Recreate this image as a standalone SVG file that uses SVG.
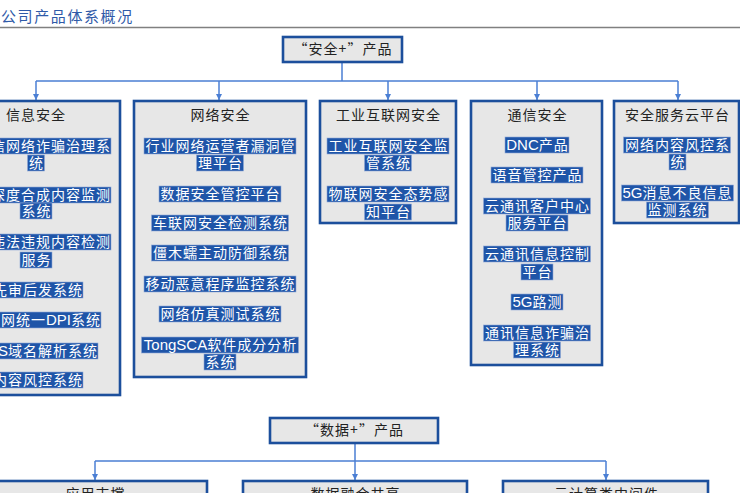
<svg xmlns="http://www.w3.org/2000/svg" width="740" height="493" viewBox="0 0 740 493">
<style>
.box{fill:#e7e7e7;stroke:#1c4f9c;stroke-width:2.6}
.hd{font-family:"Noto Sans CJK SC",sans-serif;font-size:14px;letter-spacing:1px;fill:#222;text-anchor:middle}
.it{font-family:"Noto Sans CJK SC",sans-serif;font-size:14px;letter-spacing:1px;fill:#fff;text-anchor:middle}
.itE{font-family:"Noto Sans CJK SC",sans-serif;font-size:14px;letter-spacing:1px;fill:#fff;text-anchor:end}
.lat{font-family:"Liberation Sans",Arial,sans-serif;font-size:15px;letter-spacing:0}
.hl{fill:#1f55a8;stroke:#8fa9d6;stroke-width:0.6}
.cn{fill:none;stroke:#4b7fd4;stroke-width:1.5}
</style>
<defs>
<marker id="ar" markerWidth="6" markerHeight="6" refX="6" refY="3" orient="auto" markerUnits="userSpaceOnUse">
<path d="M0,0 L6,3 L0,6 z" fill="#4b7fd4"/>
</marker>
</defs>
<rect width="740" height="493" fill="#fff"/>
<g id="title">
<text x="1" y="22" font-family="Noto Sans CJK SC,sans-serif" font-size="15" letter-spacing="1.6" fill="#2f5aa8">公司产品体系概况</text>
<line x1="0" y1="27.5" x2="740" y2="27.5" stroke="#808080" stroke-width="1.6"/>
</g>
<g id="connectors">
<path class="cn" d="M342,62 V81 M36,81 H678"/>
<path class="cn" d="M36,81 V100" marker-end="url(#ar)"/>
<path class="cn" d="M219,81 V100" marker-end="url(#ar)"/>
<path class="cn" d="M388,81 V100" marker-end="url(#ar)"/>
<path class="cn" d="M537,81 V100" marker-end="url(#ar)"/>
<path class="cn" d="M678,81 V100" marker-end="url(#ar)"/>
<path class="cn" d="M355,443 V461 M95,461 H606"/>
<path class="cn" d="M95,461 V480" marker-end="url(#ar)"/>
<path class="cn" d="M355,461 V480" marker-end="url(#ar)"/>
<path class="cn" d="M606,461 V480" marker-end="url(#ar)"/>
</g>
<g id="root-security">
<rect class="box" x="283" y="37" width="119" height="25"/>
<text class="hd" x="343" y="54">“安全+”产品</text>
</g>
<g id="info-security">
<rect class="box" x="-52" y="101" width="172" height="294"/>
<text class="hd" x="36" y="120">信息安全</text>
<rect class="hl" x="-20" y="138" width="131" height="16"/><text class="itE" x="111" y="151">电信网络诈骗治理系</text>
<rect class="hl" x="27.5" y="155" width="17" height="16"/><text class="it" x="36.5" y="168">统</text>
<rect class="hl" x="-20" y="187" width="131" height="16"/><text class="itE" x="111" y="200">深度合成内容监测</text>
<rect class="hl" x="20" y="203" width="32" height="16"/><text class="it" x="36.5" y="216">系统</text>
<rect class="hl" x="-20" y="234" width="131" height="16"/><text class="itE" x="111" y="247">违法违规内容检测</text>
<rect class="hl" x="20" y="252" width="32" height="16"/><text class="it" x="36.5" y="265">服务</text>
<rect class="hl" x="-20" y="282" width="103" height="16"/><text class="itE" x="83" y="295">先审后发系统</text>
<rect class="hl" x="-20" y="312" width="121" height="16"/><text class="itE" x="101" y="325">互联网统一<tspan class="lat">DPI</tspan>系统</text>
<rect class="hl" x="-20" y="343" width="118" height="16"/><text class="itE" x="98" y="356"><tspan class="lat">DNS</tspan>域名解析系统</text>
<rect class="hl" x="-20" y="372" width="103" height="16"/><text class="itE" x="83" y="385">内容风控系统</text>
</g>
<g id="network-security">
<rect class="box" x="134" y="101" width="172" height="276"/>
<text class="hd" x="220.5" y="120">网络安全</text>
<rect class="hl" x="144" y="138" width="152" height="16"/><text class="it" x="220.5" y="151">行业网络运营者漏洞管</text>
<rect class="hl" x="196.5" y="155" width="47" height="16"/><text class="it" x="220.5" y="168">理平台</text>
<rect class="hl" x="159" y="186" width="122" height="16"/><text class="it" x="220.5" y="199">数据安全管控平台</text>
<rect class="hl" x="151.5" y="215" width="137" height="16"/><text class="it" x="220.5" y="228">车联网安全检测系统</text>
<rect class="hl" x="151.5" y="245" width="137" height="16"/><text class="it" x="220.5" y="258">僵木蠕主动防御系统</text>
<rect class="hl" x="144" y="276" width="152" height="16"/><text class="it" x="220.5" y="289">移动恶意程序监控系统</text>
<rect class="hl" x="159" y="306" width="122" height="16"/><text class="it" x="220.5" y="319">网络仿真测试系统</text>
<rect class="hl" x="141.5" y="337" width="157" height="16"/><text class="it" x="220.5" y="350"><tspan class="lat">TongSCA</tspan>软件成分分析</text>
<rect class="hl" x="204" y="354" width="32" height="16"/><text class="it" x="220.5" y="367">系统</text>
</g>
<g id="iiot-security">
<rect class="box" x="320" y="101" width="136" height="122"/>
<text class="hd" x="388.5" y="120">工业互联网安全</text>
<rect class="hl" x="327" y="138" width="122" height="16"/><text class="it" x="388.5" y="151">工业互联网安全监</text>
<rect class="hl" x="364.5" y="155" width="47" height="16"/><text class="it" x="388.5" y="168">管系统</text>
<rect class="hl" x="327" y="186" width="122" height="16"/><text class="it" x="388.5" y="199">物联网安全态势感</text>
<rect class="hl" x="364.5" y="204" width="47" height="16"/><text class="it" x="388.5" y="217">知平台</text>
</g>
<g id="comm-security">
<rect class="box" x="471" y="101" width="131" height="264"/>
<text class="hd" x="537.5" y="120">通信安全</text>
<rect class="hl" x="505" y="137" width="64" height="16"/><text class="it" x="537.5" y="150"><tspan class="lat">DNC</tspan>产品</text>
<rect class="hl" x="491" y="167" width="92" height="16"/><text class="it" x="537.5" y="180">语音管控产品</text>
<rect class="hl" x="483.5" y="198" width="107" height="16"/><text class="it" x="537.5" y="211">云通讯客户中心</text>
<rect class="hl" x="506" y="215" width="62" height="16"/><text class="it" x="537.5" y="228">服务平台</text>
<rect class="hl" x="483.5" y="246" width="107" height="16"/><text class="it" x="537.5" y="259">云通讯信息控制</text>
<rect class="hl" x="521" y="264" width="32" height="16"/><text class="it" x="537.5" y="277">平台</text>
<rect class="hl" x="511" y="294" width="52" height="16"/><text class="it" x="537.5" y="307"><tspan class="lat">5G</tspan>路测</text>
<rect class="hl" x="483.5" y="325" width="107" height="16"/><text class="it" x="537.5" y="338">通讯信息诈骗治</text>
<rect class="hl" x="513.5" y="342" width="47" height="16"/><text class="it" x="537.5" y="355">理系统</text>
</g>
<g id="cloud-security">
<rect class="box" x="614" y="101" width="125" height="122"/>
<text class="hd" x="677.5" y="120">安全服务云平台</text>
<rect class="hl" x="623.5" y="137" width="107" height="16"/><text class="it" x="677.5" y="150">网络内容风控系</text>
<rect class="hl" x="669" y="154" width="17" height="16"/><text class="it" x="678" y="167">统</text>
<rect class="hl" x="621.5" y="185" width="112" height="16"/><text class="it" x="677.5" y="198"><tspan class="lat">5G</tspan>消息不良信息</text>
<rect class="hl" x="646.5" y="202" width="62" height="16"/><text class="it" x="677.5" y="215">监测系统</text>
</g>
<g id="root-data">
<rect class="box" x="270" y="418" width="168" height="25"/>
<text class="hd" x="354.5" y="435">“数据+”产品</text>
</g>
<g id="app-support">
<rect class="box" x="-17" y="481" width="224" height="30"/>
<text class="hd" x="95.5" y="499">应用支撑</text>
</g>
<g id="data-fusion">
<rect class="box" x="243" y="481" width="224" height="30"/>
<text class="hd" x="355.5" y="499">数据融合共享</text>
</g>
<g id="cloud-middleware">
<rect class="box" x="503" y="481" width="205" height="30"/>
<text class="hd" x="606.5" y="499">云计算类中间件</text>
</g>
</svg>
